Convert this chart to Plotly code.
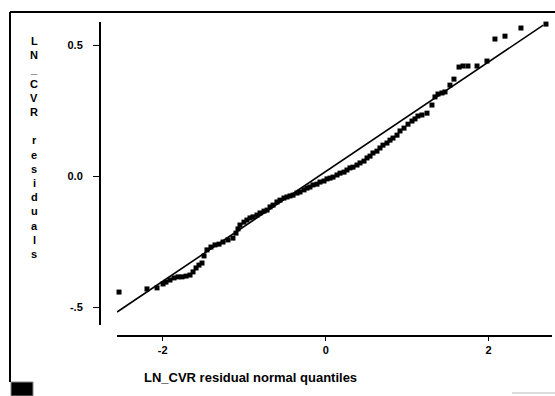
import plotly.graph_objects as go

# Normal quantiles (x) and LN_CVR residuals (y), ordered
quantiles = [
    -2.536, -2.193, -2.070, -1.996, -1.960, -1.911, -1.861, -1.812, -1.763, -1.714,
    -1.665, -1.628, -1.591, -1.555, -1.518, -1.493, -1.457, -1.408, -1.358, -1.309,
    -1.260, -1.199, -1.138, -1.101, -1.076, -1.052, -1.003, -0.966, -0.929, -0.892,
    -0.843, -0.806, -0.757, -0.720, -0.683, -0.646, -0.598, -0.561, -0.512, -0.475,
    -0.438, -0.401, -0.352, -0.315, -0.266, -0.229, -0.193, -0.156, -0.107, -0.070,
    -0.021, 0.016, 0.053, 0.090, 0.139, 0.176, 0.225, 0.261, 0.298, 0.335,
    0.384, 0.421, 0.470, 0.507, 0.544, 0.580, 0.629, 0.666, 0.703, 0.752,
    0.789, 0.826, 0.875, 0.912, 0.961, 1.010, 1.059, 1.096, 1.132, 1.181,
    1.243, 1.304, 1.341, 1.378, 1.427, 1.464, 1.525, 1.574, 1.636, 1.685,
    1.746, 1.857, 1.979, 2.077, 2.200, 2.396, 2.703,
]
residuals = [
    -0.443, -0.431, -0.427, -0.412, -0.405, -0.397, -0.389, -0.385, -0.385, -0.382,
    -0.378, -0.366, -0.351, -0.340, -0.332, -0.305, -0.282, -0.271, -0.263, -0.260,
    -0.252, -0.244, -0.237, -0.218, -0.202, -0.187, -0.176, -0.168, -0.160, -0.156,
    -0.149, -0.141, -0.134, -0.130, -0.118, -0.111, -0.099, -0.092, -0.084, -0.080,
    -0.076, -0.073, -0.065, -0.061, -0.053, -0.046, -0.042, -0.034, -0.031, -0.023,
    -0.019, -0.011, -0.008, -0.004, 0.004, 0.011, 0.015, 0.023, 0.031, 0.034,
    0.042, 0.050, 0.057, 0.069, 0.076, 0.088, 0.095, 0.107, 0.118, 0.126,
    0.137, 0.145, 0.156, 0.172, 0.183, 0.198, 0.210, 0.218, 0.229, 0.233,
    0.240, 0.271, 0.302, 0.313, 0.317, 0.321, 0.347, 0.370, 0.416, 0.420,
    0.420, 0.420, 0.439, 0.523, 0.534, 0.565, 0.580,
]

# Reference normal line endpoints
ref_q = [-2.56, 2.67]
ref_y = [-0.519, 0.576]

x_ticks = [-2, 0, 2]
x_tick_text = ["-2", "0", "2"]
y_ticks = [0.5, 0.0, -0.5]
y_tick_text = ["0.5", "0.0", "-.5"]

y_title_letters = ["L", "N", "_", "C", "V", "R", "", "r", "e", "s", "i", "d", "u", "a", "l", "s"]
x_title = "LN_CVR residual normal quantiles"

W, H = 555, 396
ML, MR, MT, MB = 100, 3, 22, 60
PW, PH = W - ML - MR, H - MT - MB


def px(xp):
    return (xp - ML) / PW


def py(yp):
    return (H - MB - yp) / PH


FONT = "Liberation Sans, Arial, sans-serif"

fig = go.Figure()
fig.add_trace(go.Scatter(
    x=ref_q, y=ref_y, mode="lines",
    line=dict(color="black", width=1.6), hoverinfo="skip",
))
fig.add_trace(go.Scatter(
    x=quantiles, y=residuals, mode="markers",
    marker=dict(symbol="square", size=5, color="black", line=dict(width=0)),
    cliponaxis=False,
))

# vertical, letter-stacked y title
annotations = []
for i, ch in enumerate(y_title_letters):
    if not ch:
        continue
    annotations.append(dict(
        text="<b>%s</b>" % ch, x=px(34), y=py(41 + i * 14.2),
        xref="paper", yref="paper", showarrow=False,
        xanchor="center", yanchor="middle",
        font=dict(family=FONT, size=11, color="black"),
    ))
annotations.append(dict(
    text="<b>%s</b>" % x_title, x=px(250), y=py(377),
    xref="paper", yref="paper", showarrow=False,
    xanchor="center", yanchor="middle",
    font=dict(family=FONT, size=13, color="black"),
))

shapes = [
    # frame around the figure
    dict(type="line", xref="paper", yref="paper", x0=px(10), x1=px(555), y0=py(12), y1=py(12),
         line=dict(color="black", width=2)),
    dict(type="line", xref="paper", yref="paper", x0=px(10), x1=px(10), y0=py(12), y1=py(382),
         line=dict(color="black", width=2)),
    dict(type="rect", xref="paper", yref="paper", x0=px(11), x1=px(33), y0=py(382), y1=py(396),
         fillcolor="black", line=dict(color="#888888", width=1)),
    dict(type="line", xref="paper", yref="paper", x0=px(512), x1=px(555), y0=py(393), y1=py(393),
         line=dict(color="#bbbbbb", width=1)),
]

fig.update_layout(
    width=W, height=H,
    margin=dict(l=ML, r=MR, t=MT, b=MB, pad=0),
    paper_bgcolor="white", plot_bgcolor="white",
    showlegend=False,
    font=dict(family=FONT, size=11, color="black"),
    xaxis=dict(
        domain=[px(117), 1], anchor="free", position=0,
        range=[-2.561, 2.777], showgrid=False, zeroline=False,
        showline=True, linecolor="black", linewidth=1.5,
        ticks="outside", ticklen=4, tickwidth=1, tickcolor="black",
        tickvals=x_ticks, ticktext=["<b>%s</b>" % t for t in x_tick_text],
        tickfont=dict(family=FONT, size=11, color="black"),
    ),
    yaxis=dict(
        domain=[py(325), 1], anchor="free", position=0,
        range=[-0.5687, 0.588], showgrid=False, zeroline=False,
        showline=True, linecolor="black", linewidth=2,
        ticks="outside", ticklen=6, tickwidth=1, tickcolor="black",
        ticklabelstandoff=8,
        tickvals=y_ticks, ticktext=["<b>%s</b>" % t for t in y_tick_text],
        tickfont=dict(family=FONT, size=11, color="black"),
    ),
    annotations=annotations,
    shapes=shapes,
)

fig.write_html("out.html")
